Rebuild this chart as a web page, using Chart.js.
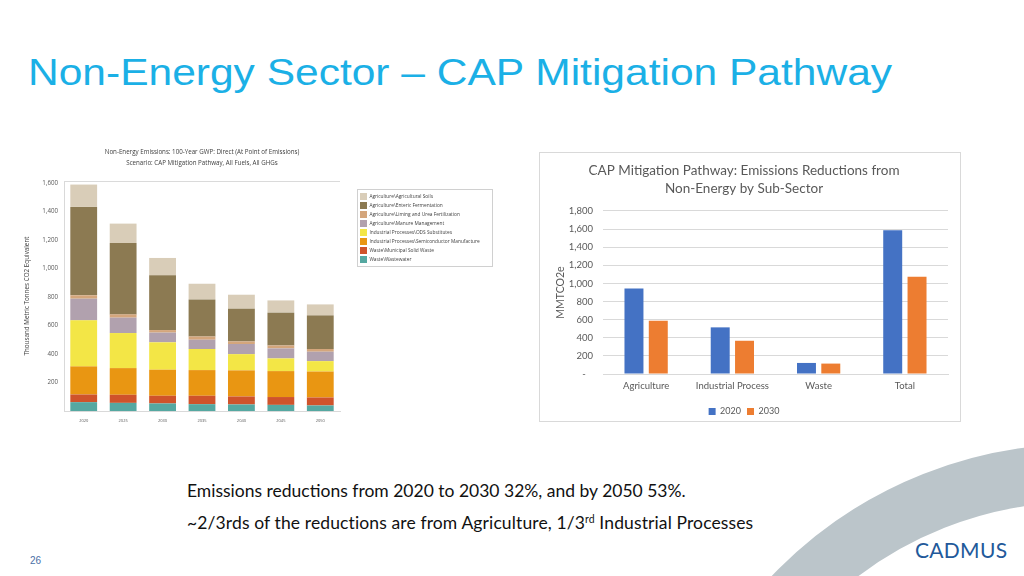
<!DOCTYPE html>
<html>
<head>
<meta charset="utf-8">
<script src="https://cdn.jsdelivr.net/npm/chart.js@4.4.1/dist/chart.umd.min.js"></script>
<style>
html,body{margin:0;padding:0;background:#fff;}
body{width:1024px;height:576px;position:relative;overflow:hidden;font-family:"Liberation Sans",Arial,sans-serif;}
#arc{position:absolute;left:0;top:0;}
#title{position:absolute;left:28px;top:55px;font-size:37px;line-height:36px;color:#1BB0E6;white-space:nowrap;transform-origin:0 0;transform:scaleX(1.149);}
#leftWrap{position:absolute;left:20px;top:143px;width:480px;height:292px;}
#rightBox{position:absolute;left:539px;top:152px;width:420px;height:268px;border:1px solid #D9D9D9;background:#fff;}
#rightWrap{position:absolute;left:0;top:0;width:420px;height:268px;}
.note{position:absolute;left:187px;font-family:Lato,sans-serif;font-size:17.5px;line-height:20px;color:#111;white-space:nowrap;}
.note2{letter-spacing:0.12px;}
.note sup{font-size:10.5px;line-height:0;vertical-align:6px;}
#page{position:absolute;left:30px;top:554.7px;font-size:10px;line-height:12px;color:#4A6FA5;}
#logo{position:absolute;left:915px;top:538.2px;font-family:Lato,sans-serif;font-size:21px;line-height:24px;color:#22599A;letter-spacing:0.3px;}
</style>
</head>
<body>
<svg id="arc" width="1024" height="576"><circle cx="1080" cy="870" r="397" fill="none" stroke="#BBC5CA" stroke-width="58"/></svg>
<div id="title">Non-Energy Sector – CAP Mitigation Pathway</div>
<div id="leftWrap"><canvas id="leftChart"></canvas></div>
<div id="rightBox"><div id="rightWrap"><canvas id="rightChart"></canvas></div></div>
<div class="note" style="top:480.9px">Emissions reductions from 2020 to 2030 32%, and by 2050 53%.</div>
<div class="note note2" style="top:513.2px">~2/3rds of the reductions are from Agriculture, 1/3<sup>rd</sup> Industrial Processes</div>
<div id="page">26</div>
<div id="logo">CADMUS</div>
<script>
// ---------- Left chart data (stack bottom → top) ----------
const years = ['2020','2025','2030','2035','2040','2045','2050'];
const wastewater    = [62, 57, 53, 48, 46, 43, 39];
const solidWaste    = [54, 57, 54, 59, 56, 55, 56];
const semiconductor = [197, 187, 183, 180, 183, 182, 182];
const odsSubst      = [323, 246, 192, 148, 114, 89, 73];
const manure        = [152, 108, 68, 65, 71, 70, 66];
const liming        = [24, 23, 18, 23, 18, 21, 19];
const enteric       = [620, 501, 384, 260, 230, 230, 236];
const soils         = [157, 136, 122, 110, 98, 86, 77];
const leftSeriesNames = [
  'Waste\\Wastewater',
  'Waste\\Municipal Solid Waste',
  'Industrial Processes\\Semiconductor Manufacture',
  'Industrial Processes\\ODS Substitutes',
  'Agriculture\\Manure Management',
  'Agriculture\\Liming and Urea Fertilization',
  'Agriculture\\Enteric Fermentation',
  'Agriculture\\Agricultural Soils'
];
const leftSeriesColors = ['#55A8A1','#CF532B','#E99612','#F3E646','#B1A1AE','#D4A67C','#8C7A52','#D9CDB8'];
const leftYTicks = [200, 400, 600, 800, 1000, 1200, 1400, 1600];
const leftTitleLines = ['Non-Energy Emissions: 100-Year GWP: Direct (At Point of Emissions)',
                        'Scenario: CAP Mitigation Pathway, All Fuels, All GHGs'];
const leftYTitle = 'Thousand Metric Tonnes CO2 Equivalent';

// ---------- Right chart data ----------
const sectors = ['Agriculture','Industrial Process','Waste','Total'];
const values2020 = [944, 515, 122, 1586];
const values2030 = [589, 367, 115, 1074];
const rightTitleLines = ['CAP Mitigation Pathway: Emissions Reductions from','Non-Energy by Sub-Sector'];
const rightYTitle = 'MMTCO2e';

const fmt = v => v.toLocaleString('en-US');

const legendShift = {
  id:'legendShift',
  beforeLayout(chart, args, opts){
    const lg = chart.legend;
    if(lg && opts.width !== undefined && !lg._fixedWidth){
      const origFit = lg.fit.bind(lg);
      lg.fit = function(){ origFit(); this.width = opts.width; };
      lg._fixedWidth = true;
    }
  },
  afterLayout(chart, args, opts){
    const lg = chart.legend; if(!lg) return;
    if(opts.left !== undefined){ const w = lg.width; lg.left = opts.left; lg.right = opts.left + w; }
    if(opts.top !== undefined){ const h = lg.height; lg.top = opts.top; lg.bottom = opts.top + h; }
  }
};
const frameExtras = {
  id:'frameExtras',
  afterDraw(chart, args, opts){
    const ctx = chart.ctx;
    ctx.save();
    if(opts.topLine){
      const a = chart.chartArea;
      ctx.strokeStyle = '#DADADA'; ctx.lineWidth = 1;
      ctx.beginPath(); ctx.moveTo(a.left, a.top + 0.5); ctx.lineTo(a.right, a.top + 0.5); ctx.stroke();
    }
    if(opts.legendBox){
      const b = opts.legendBox;
      ctx.strokeStyle = '#D0D0D0'; ctx.lineWidth = 1;
      ctx.strokeRect(b[0] + 0.5, b[1] + 0.5, b[2], b[3]);
    }
    ctx.restore();
  }
};

const leftDataArrays = [wastewater, solidWaste, semiconductor, odsSubst, manure, liming, enteric, soils];
new Chart(document.getElementById('leftChart'), {
  type:'bar',
  data:{
    labels: years,
    datasets: leftDataArrays.map((arr,i)=>({
      label: leftSeriesNames[i], data: arr, backgroundColor: leftSeriesColors[i],
      borderWidth:0, categoryPercentage:0.8, barPercentage:0.85
    }))
  },
  options:{
    responsive:true, maintainAspectRatio:false, animation:false, devicePixelRatio:1,
    layout:{padding:{left:0,right:2,top:0,bottom:0}},
    plugins:{
      title:{display:true, fullSize:false, text:leftTitleLines, color:'#404040',
             font:{family:'Open Sans', size:6.2, weight:'normal', lineHeight:1.75}, padding:{top:4,bottom:12.3}},
      legend:{display:true, position:'right', align:'start', reverse:true, maxWidth:300,
              labels:{boxWidth:7, boxHeight:7, padding:2, color:'#404040', font:{family:'Open Sans', size:4.8}}},
      tooltip:{enabled:false},
      legendShift:{width:158, left:338, top:48},
      frameExtras:{topLine:true, legendBox:[337, 46, 135, 77]}
    },
    scales:{
      x:{stacked:true, grid:{display:false, drawTicks:false}, border:{display:true, color:'#D9D9D9'},
         ticks:{color:'#595959', font:{family:'Open Sans', size:4}, padding:7},
         afterFit(s){ s.height = 24; }},
      y:{stacked:true, min:0, max:1614, grid:{display:false, drawTicks:false}, border:{display:true, color:'#D9D9D9'},
         ticks:{color:'#595959', font:{family:'Open Sans', size:6.2}, padding:6, callback:v => fmt(v)},
         afterBuildTicks(s){ s.ticks = leftYTicks.map(v => ({value:v})); },
         title:{display:true, text:leftYTitle, color:'#404040', font:{family:'Open Sans', size:6.3}, padding:{top:3,bottom:0}},
         afterFit(s){ s.width = 44; }}
    }
  },
  plugins:[legendShift, frameExtras]
});

new Chart(document.getElementById('rightChart'), {
  type:'bar',
  data:{
    labels: sectors,
    datasets:[
      {label:'2020', data:values2020, backgroundColor:'#4472C4', borderWidth:0, categoryPercentage:0.564, barPercentage:0.78},
      {label:'2030', data:values2030, backgroundColor:'#ED7D31', borderWidth:0, categoryPercentage:0.564, barPercentage:0.78}
    ]
  },
  options:{
    responsive:true, maintainAspectRatio:false, animation:false, devicePixelRatio:1,
    layout:{padding:{left:0,right:12,top:0,bottom:0}},
    plugins:{
      title:{display:true, text:rightTitleLines, color:'#595959',
             font:{family:'Lato', size:13.5, weight:'normal', lineHeight:1.333}, padding:{top:9,bottom:13}},
      legend:{display:true, position:'bottom', align:'center',
              labels:{boxWidth:7, boxHeight:7, padding:6, color:'#595959', font:{family:'Lato', size:9}}},
      tooltip:{enabled:false},
      legendShift:{top:248}
    },
    scales:{
      x:{grid:{display:false, drawTicks:false}, border:{display:true, color:'#D9D9D9'},
         ticks:{color:'#595959', font:{family:'Lato', size:9.5}, padding:6},
         afterFit(s){ s.height = 22; }},
      y:{min:0, max:1800, grid:{color:'#D9D9D9', drawTicks:false}, border:{display:false},
         ticks:{stepSize:200, color:'#595959', font:{family:'Lato', size:9.5}, padding:10,
                callback:v => v === 0 ? '-   ' : fmt(v)},
         title:{display:true, text:rightYTitle, color:'#595959', font:{family:'Lato', size:10.5}, padding:{top:14,bottom:0}},
         afterFit(s){ s.width = 63; }}
    }
  },
  plugins:[legendShift]
});
</script>
</body>
</html>
